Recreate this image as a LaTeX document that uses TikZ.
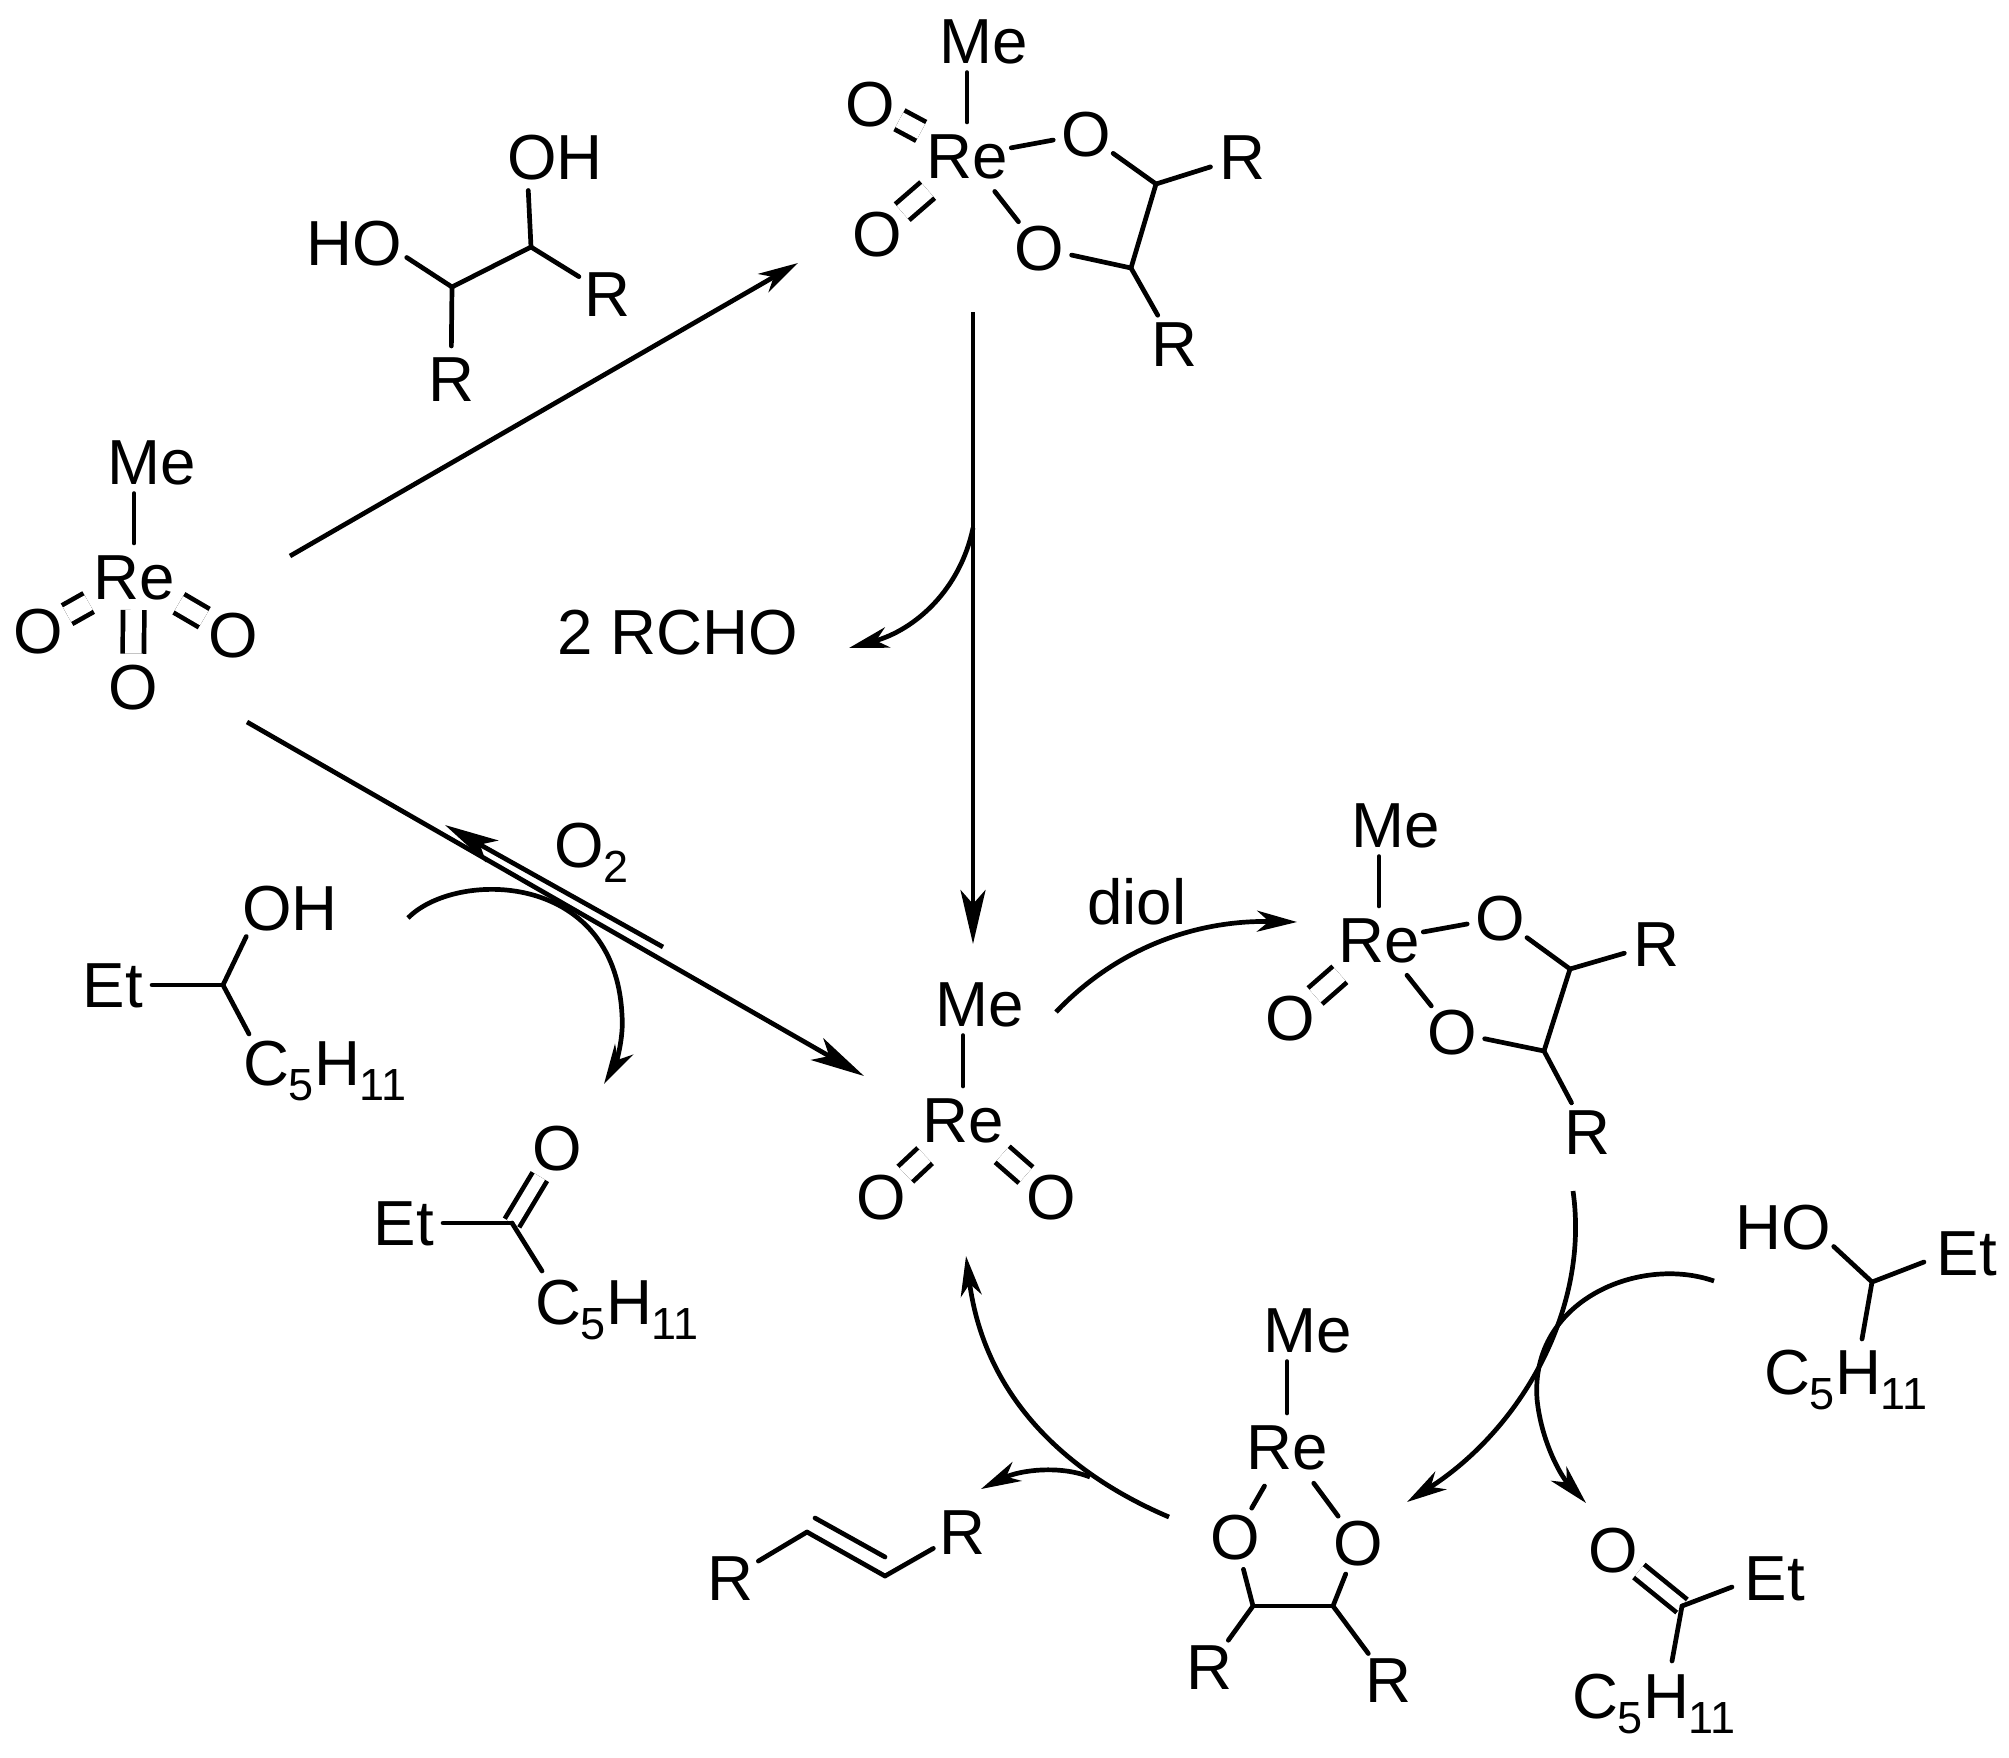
\documentclass[tikz,border=0pt]{standalone}
\usepackage{fontspec}
\setmainfont{Liberation Sans}
\usetikzlibrary{arrows.meta,calc}
\newcommand{\subs}[1]{\raisebox{-.15cm}{\fontsize{12.8}{13}\selectfont #1}}
\newcommand{\chemC}{C\subs{5}H\subs{11}}
\tikzset{
  txt/.style={font=\fontsize{18.1}{21}\selectfont, text height=.45cm, text depth=0pt},
  atm/.style={txt, circle, inner sep=0pt, outer sep=0pt, minimum size=.66cm},
  rhen/.style={txt, circle, inner sep=0pt, outer sep=0pt, minimum size=.9cm},
  wide/.style={txt, rectangle, inner xsep=.03cm, inner ysep=.09cm, outer sep=0pt},
  lab/.style={txt, rectangle, inner sep=0pt, outer sep=0pt},
  bond/.style={line width=.047cm, line cap=round},
  dbl/.style={line width=.047cm, double, double distance=.165cm},
  dbn/.style={line width=.047cm, double, double distance=.12cm},
  arr/.style={line width=.047cm, -{Stealth[length=.4cm,width=.21cm,inset=.12cm]}},
  bigarr/.style={line width=.047cm, -{Stealth[length=.54cm,width=.25cm,inset=.14cm]}}
}
\begin{document}
\begin{tikzpicture}[x=.01cm,y=-.01cm]
\useasboundingbox (0,0) rectangle (2009,1757);

% --- Molecule A: top glycolate
\node[wide] (aMe) at (984,41) {Me};
\node[rhen] (aRe) at (967,156) {\makebox[0pt]{Re}};
\node[atm] (aO1) at (870,104) {O};
\node[atm] (aO2) at (877,234) {O};
\node[atm] (aO3) at (1086,134) {O};
\node[atm] (aO4) at (1039,248) {O};
\node[atm] (aR1) at (1242,157) {R};
\node[atm] (aR2) at (1174,344) {R};
\coordinate (aC1) at (1156,184);
\coordinate (aC2) at (1131,268);
\draw[bond,shorten >=-.11cm] (aMe.south -| aRe) -- (aRe);
\draw[dbl,shorten <=.07cm] (aRe) -- (aO1);
\draw[dbl,shorten <=.07cm] (aRe) -- (aO2);
\draw[bond] (aRe) -- (aO3);
\draw[bond] (aRe) -- (aO4);
\draw[bond] (aO3) -- (aC1);
\draw[bond] (aC1) -- (aR1);
\draw[bond] (aC1) -- (aC2);
\draw[bond] (aO4) -- (aC2);
\draw[bond] (aC2) -- (aR2);

% --- Diol
\node[lab] (dOH) at (555,157) {OH};
\node[lab] (dHO) at (354,243) {HO};
\node[atm] (dR1) at (607,294) {R};
\node[atm] (dR2) at (451,379) {R};
\coordinate (dC1) at (452,287);
\coordinate (dC2) at (531,247);
\draw[bond] (dC2) -- ($(dOH.south west)+(21,11)$);
\draw[bond] (dC1) -- ($(dHO.south east)+(5,-8)$);
\draw[bond] (dC1) -- (dC2);
\draw[bond] (dC2) -- (dR1);
\draw[bond] (dC1) -- (dR2);

% --- Molecule B: MeReO3
\node[wide] (bMe) at (152,462) {Me};
\node[rhen] (bRe) at (134,577) {\makebox[0pt]{Re}};
\node[atm] (bO1) at (38,631) {O};
\node[atm] (bO2) at (233,635) {O};
\node[atm] (bO3) at (133,687) {O};
\draw[bond,shorten >=-.11cm] (bMe.south -| bRe) -- (bRe);
\draw[dbl,shorten <=.07cm] (bRe) -- (bO1);
\draw[dbl,shorten <=.07cm] (bRe) -- (bO2);
\draw[dbl,shorten <=-.12cm] (bRe) -- (bO3);

% --- Central MeReO2
\node[wide] (cMe) at (980,1004) {Me};
\node[rhen] (cRe) at (963,1120) {\makebox[0pt]{Re}};
\node[atm] (cO1) at (881,1197) {O};
\node[atm] (cO2) at (1051,1197) {O};
\draw[bond,shorten >=-.11cm] (cMe.south -| cRe) -- (cRe);
\draw[dbl,shorten <=.07cm] (cRe) -- (cO1);
\draw[dbl,shorten <=.07cm] (cRe) -- (cO2);

% --- Molecule D: right glycolate
\node[wide] (eMe) at (1396,825) {Me};
\node[rhen] (eRe) at (1379,940) {\makebox[0pt]{Re}};
\node[atm] (eO1) at (1290,1018) {O};
\node[atm] (eO2) at (1500,918) {O};
\node[atm] (eO3) at (1452,1032) {O};
\node[atm] (eR1) at (1656,944) {R};
\node[atm] (eR2) at (1587,1132) {R};
\coordinate (eC1) at (1570,969);
\coordinate (eC2) at (1544,1051);
\draw[bond,shorten >=-.11cm] (eMe.south -| eRe) -- (eRe);
\draw[dbl,shorten <=.07cm] (eRe) -- (eO1);
\draw[bond] (eRe) -- (eO2);
\draw[bond] (eRe) -- (eO3);
\draw[bond] (eO2) -- (eC1);
\draw[bond] (eC1) -- (eR1);
\draw[bond] (eC1) -- (eC2);
\draw[bond] (eO3) -- (eC2);
\draw[bond] (eC2) -- (eR2);

% --- Molecule E: bottom Re(III) glycolate
\node[wide] (fMe) at (1308,1330) {Me};
\node[rhen] (fRe) at (1287,1447) {\makebox[0pt]{Re}};
\node[atm] (fO1) at (1235,1537) {O};
\node[atm] (fO2) at (1358,1543) {O};
\node[atm] (fR1) at (1209,1667) {R};
\node[atm] (fR2) at (1388,1680) {R};
\coordinate (fC1) at (1253,1606);
\coordinate (fC2) at (1333,1606);
\draw[bond,shorten >=-.11cm] (fMe.south -| fRe) -- (fRe);
\draw[bond] (fRe) -- (fO1);
\draw[bond] (fRe) -- (fO2);
\draw[bond] (fO1) -- (fC1);
\draw[bond] (fO2) -- (fC2);
\draw[bond] (fC1) -- (fC2);
\draw[bond] (fC1) -- (fR1);
\draw[bond] (fC2) -- (fR2);

% --- Left alcohol
\node[lab] (gOH) at (290,908) {OH};
\node[lab] (gEt) at (113,985) {Et};
\node[lab,anchor=base west] (gC5) at (243,1085) {\chemC};
\coordinate (gC) at (223,985);
\draw[bond] (gC) -- ($(gOH.south west)+(4,6)$);
\draw[bond,shorten >=.09cm] (gC) -- (gEt.east);
\draw[bond] (gC) -- ($(gC5.north west)+(6,-6)$);

% --- Left ketone
\node[atm] (hO) at (557,1148) {O};
\node[lab] (hEt) at (404,1223) {Et};
\node[lab,anchor=base west] (hC5) at (535,1324) {\chemC};
\coordinate (hC) at (512,1223);
\draw[dbn] (hC) -- (hO);
\draw[bond,shorten >=.09cm] (hC) -- (hEt.east);
\draw[bond] (hC) -- ($(hC5.north west)+(7,-8)$);

% --- Right alcohol
\node[lab] (iHO) at (1783,1227) {HO};
\node[lab] (iEt) at (1967,1253) {Et};
\node[lab,anchor=base west] (iC5) at (1764,1394) {\chemC};
\coordinate (iC) at (1872,1282);
\draw[bond] (iC) -- ($(iHO.south east)+(3,-3)$);
\draw[bond] (iC) -- ($(iEt.west)+(-13,9)$);
\draw[bond] (iC) -- ($(iC5.north west)+(98,-10)$);

% --- Right ketone
\node[atm] (jO) at (1613,1550) {O};
\node[lab] (jEt) at (1775,1578) {Et};
\node[lab,anchor=base west] (jC5) at (1572,1718) {\chemC};
\coordinate (jC) at (1682,1606);
\draw[dbn] (jC) -- (jO);
\draw[bond] (jC) -- ($(jEt.west)+(-13,9)$);
\draw[bond] (jC) -- ($(jC5.north west)+(100,-12)$);

% --- Alkene
\node[atm] (kR1) at (730,1578) {R};
\node[atm] (kR2) at (962,1532) {R};
\coordinate (kC1) at (807,1532);
\coordinate (kC2) at (885,1576);
\coordinate (kD1) at (815,1518);
\coordinate (kD2) at (885,1557);
\draw[bond] (kR1) -- (kC1);
\draw[bond] (kC1) -- (kC2);
\draw[bond] (kD1) -- (kD2);
\draw[bond] (kC2) -- (kR2);

% --- Text labels
\node[lab] (rcho) at (678,632) {2 RCHO};
\node[lab,anchor=base west] (otwo) at (554,867) {O\subs{2}};
\node[lab,anchor=base] (diol) at (1137,924) {diol};

% --- Straight arrows
\coordinate (s1) at (290,556);
\coordinate (e1) at (798,263);
\draw[arr] (s1) -- (e1);
\coordinate (s2) at (973,312);
\coordinate (e2) at (973,944);
\draw[bigarr] (s2) -- (e2);
\coordinate (s3) at (247,722);
\coordinate (e3) at (864,1076);
\draw[bigarr] (s3) -- (e3);
\coordinate (s4) at (663,947);
\coordinate (e4) at (445,825);
\draw[bigarr] (s4) -- (e4);

% --- Curved arrows
\coordinate (s5) at (973,528);
\coordinate (e5) at (849,648);
\draw[arr] (s5) .. controls (960,590) and (915,630) .. (e5);

\coordinate (s6) at (408,918);
\coordinate (m6) at (622,1015);
\coordinate (e6) at (604,1084);
\draw[arr] (s6) .. controls (455,870) and (615,870) .. (m6) .. controls (624,1040) and (615,1065) .. (e6);

\coordinate (s7) at (1056,1012);
\coordinate (e7) at (1297,922);
\draw[arr] (s7) .. controls (1120,945) and (1200,920) .. (e7);

\coordinate (s8) at (1573,1191);
\coordinate (e8) at (1407,1502);
\draw[arr] (s8) .. controls (1590,1310) and (1520,1430) .. (e8);

\coordinate (s9) at (1714,1281);
\coordinate (m9) at (1537,1399);
\coordinate (e9) at (1586,1503);
\draw[arr] (s9) .. controls (1640,1255) and (1530,1300) .. (m9) .. controls (1541,1440) and (1560,1475) .. (e9);

\coordinate (s10) at (1169,1517);
\coordinate (e10) at (966,1256);
\draw[arr] (s10) .. controls (1070,1475) and (985,1400) .. (e10);

\coordinate (s11) at (1090,1477);
\coordinate (e11) at (981,1489);
\draw[arr] (s11) .. controls (1060,1465) and (1020,1470) .. (e11);
\end{tikzpicture}
\end{document}
